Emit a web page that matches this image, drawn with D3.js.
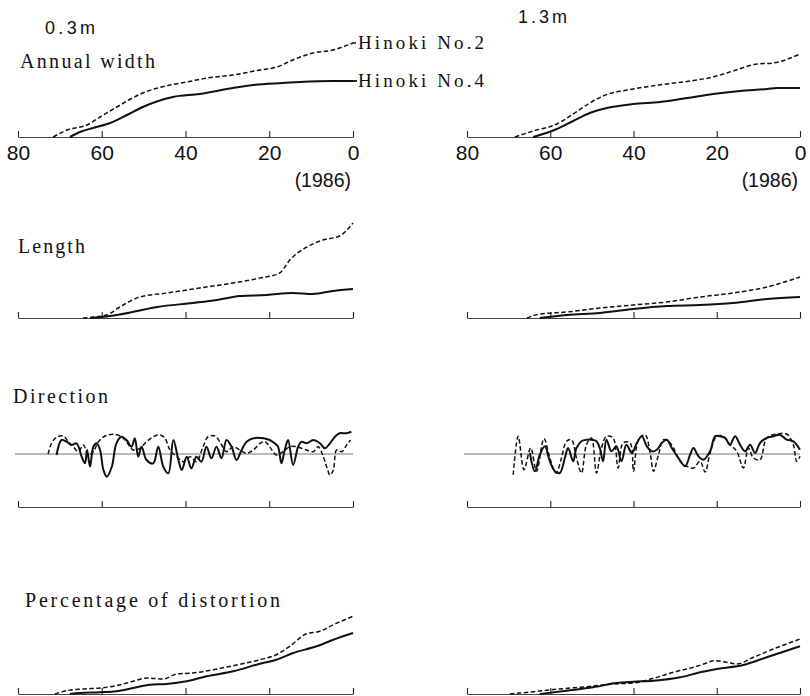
<!DOCTYPE html>
<html>
<head>
<meta charset="utf-8">
<script src="https://cdn.jsdelivr.net/npm/d3@7"></script>
<style>
  html, body { margin: 0; padding: 0; background: #fff; }
  svg { display: block; }
</style>
</head>
<body>
<svg id="chart" width="810" height="696"></svg>
<script>
// ---------------- DATA ----------------
const yearTicks = [80, 60, 40, 20, 0];
const heightLabels = ["0.3m", "1.3m"];
const panelTitles = ["Annual width", "Length", "Direction", "Percentage of distortion"];
const seriesNames = ["Hinoki No.2", "Hinoki No.4"];
const baseYearLabel = "(1986)";

// [years before 1986, relative value]
const widthLowNo2 = [[71.6,0],[68.3,7],[63.5,12],[60.4,20],[56.4,30],[50.2,44],[43.7,52],[39.7,55],[34.9,59],[28.7,62],[22.2,67],[18.2,70],[14.4,77],[9.6,84],[4.8,87],[0,94]];
const widthLowNo4 = [[67.6,0],[65.2,5],[62.1,9],[58.0,14],[54.0,22],[50.2,30],[43.0,40],[36.6,43],[28.7,49],[23.9,52],[16.8,54],[12.7,55],[4.8,56],[0,56]];
const widthHighNo2 = [[68.5,0],[64.1,6],[58.4,13],[54.5,23],[50.5,34],[47.3,41],[40.1,48],[32.0,53],[26.4,56],[20.9,60],[16.1,66],[10.3,73],[6.5,74],[0,83]];
const widthHighNo4 = [[64.1,0],[58.4,8],[54.5,16],[50.5,24],[46.4,29],[40.1,33],[33.6,35],[27.1,39],[20.9,43],[14.4,46],[7.9,48],[5.5,49],[0,49]];

const lengthLowNo2 = [[64.5,0],[58.8,3],[55.7,11],[50.9,21],[44.4,25],[36.6,30],[28.7,35],[22.2,40],[17.5,45],[15.1,58],[11.0,71],[7.2,78],[3.2,82],[0,95]];
const lengthLowNo4 = [[62.8,0],[58.0,2],[52.6,6],[46.8,11],[38.2,15],[32.5,18],[27.0,22],[20.6,23],[14.4,25],[9.6,24],[4.8,27],[0,29]];
const lengthHighNo2 = [[65.6,0],[62.5,4],[56.0,6],[48.0,10],[40.1,13],[32.0,16],[24.0,21],[16.1,25],[7.9,31],[0,41]];
const lengthHighNo4 = [[62.5,0],[56.0,3],[48.0,5],[40.1,9],[32.0,12],[24.0,13],[16.1,15],[7.9,19],[0,21]];

const directionLowNo2 = [[72.8,0],[72.0,10.7],[70.8,16.7],[69.2,18],[68.0,12.3],[66.8,7.3],[65.6,2.3],[64.4,9],[63.2,-1],[62.0,2.3],[60.8,12.3],[59.2,18],[57.2,19.7],[55.3,17.3],[54.1,12.3],[52.5,4],[50.9,5.7],[49.3,12.3],[47.7,17.3],[46.1,19],[44.9,15.7],[43.7,4],[42.1,-2.7],[40.5,-7.7],[38.9,-2.7],[37.4,-7.7],[35.8,7.3],[34.6,17.3],[33.0,18],[31.8,12.3],[30.2,2.3],[28.6,7.3],[27.0,4],[25.4,0.7],[23.8,4],[22.2,10.7],[21.0,12.3],[19.9,7.3],[18.3,-1],[16.7,2.3],[15.1,7.3],[13.5,7.3],[12.3,5.7],[11.1,4],[9.5,2.3],[8.3,7.3],[7.1,-2.7],[6.3,-12.7],[5.5,-21],[4.7,-16],[3.9,4],[2.7,2.3],[1.5,9],[0.6,14]];
const directionLowNo4 = [[70.8,-1],[69.6,14],[68.4,12.3],[67.2,9],[66.0,10.7],[64.8,-2.7],[64.0,-9.3],[63.5,4],[62.8,-12.7],[62.0,7.3],[61.2,10.7],[60.4,4],[59.6,-16],[58.8,-22.7],[57.6,-12.7],[56.5,10.7],[55.3,17.3],[54.1,14],[52.9,7.3],[52.1,15.7],[51.3,-2.7],[50.5,7.3],[49.3,-6],[47.7,-9.3],[46.5,7.3],[45.3,-12.7],[44.1,-19.3],[42.9,14],[41.7,-6],[40.9,-16],[39.7,-2.7],[38.6,-14.3],[37.4,-2.7],[36.2,-7.7],[35.0,7.3],[33.8,-4.3],[32.6,7.3],[31.4,-4.3],[30.2,14],[29.0,7.3],[27.8,-6],[26.6,4],[25.4,12.3],[23.8,15.7],[21.4,15.7],[19.9,14],[18.7,10.7],[17.9,7.3],[17.1,-9.3],[16.3,4],[15.5,14],[14.3,-11],[13.1,7.3],[12.3,12.3],[11.1,10.7],[9.5,14],[7.9,10.7],[6.7,5.7],[5.5,10.7],[4.3,17.3],[3.2,20.7],[1.6,20.7],[0.4,22.3]];
const directionHighNo2 = [[68.9,-20.7],[67.7,17.7],[66.3,-15.7],[64.7,6],[63.3,-17.3],[61.5,15.3],[60.1,-4],[58.6,-19],[57.3,-4],[56.1,12.7],[54.9,14.3],[53.7,-4],[52.5,-19],[51.3,9.3],[50.1,16],[48.9,-19],[47.7,6],[46.5,17.7],[44.9,16],[43.7,-14],[42.5,11],[40.8,11],[40.0,-17.3],[38.8,14.3],[37.2,19.3],[36.0,1],[35.2,-17.3],[34.0,-0.7],[32.8,14.3],[31.6,12.7],[30.4,6],[28.8,-7.3],[27.2,-12.3],[25.6,-14],[24.0,-7.3],[22.8,-18],[21.6,1],[20.0,17.7],[18.4,17.7],[16.8,9.3],[15.2,2.7],[13.6,-14],[12.4,6],[11.2,-4],[9.6,-5.7],[8.0,16],[5.6,20],[3.2,20],[1.6,9.3],[0.8,-7.3],[0,-2.3]];
const directionHighNo4 = [[64.9,1],[63.7,-17.3],[62.5,-0.7],[61.3,7.7],[60.1,-7.3],[58.9,-17.3],[57.7,-19],[56.5,-4],[55.7,6],[54.5,-7.3],[53.7,6],[52.5,12.7],[51.3,14.3],[50.1,14.3],[48.9,12.7],[48.1,6],[47.3,-7.3],[46.5,14.3],[45.3,2.7],[44.1,7.7],[42.9,-7.3],[41.7,9.3],[40.4,1],[39.2,11],[38.0,17.7],[36.8,7.7],[35.6,2.7],[34.4,4.3],[33.2,11],[32.0,14.3],[30.8,6],[29.2,-4],[27.6,-12.3],[26.4,-0.7],[25.6,6],[24.4,-2.3],[23.2,-5.7],[21.6,2.7],[20.4,17.7],[19.2,17.7],[18.0,16],[16.8,9.3],[15.6,17.7],[14.4,9.3],[13.2,2.7],[12.0,9.3],[10.8,1],[9.6,11],[8.0,16],[6.4,17.7],[4.8,19.3],[3.2,14.3],[1.6,12.7],[0,4.3]];

const distortionLowNo2 = [[71.2,0],[68.4,3.3],[64.4,5],[60.4,6],[56.5,8.3],[52.5,12.7],[49.3,16],[45.3,15],[42.1,20],[38.2,21],[33.4,24.3],[28.6,28.3],[22.2,34.3],[18.3,39.3],[15.1,47.7],[11.1,60.3],[7.9,62.7],[4.7,69.3],[0,77.7]];
const distortionLowNo4 = [[67.6,0],[65.2,1],[60.4,1.7],[56.5,2.7],[52.5,6],[48.5,9.3],[44.5,10],[39.7,12.7],[35.0,17.7],[28.6,22.7],[22.2,30.3],[18.3,34.3],[14.3,41],[8.7,47.7],[4.7,54.3],[0,61]];
const distortionHighNo2 = [[69.7,0],[64.1,2.3],[57.7,5],[51.3,7.3],[44.9,10],[40.0,11],[35.2,15.7],[30.4,21.7],[25.6,26.7],[22.4,31],[20.8,33.3],[17.6,31.7],[15.2,30],[11.2,36.7],[6.4,45],[0,55]];
const distortionHighNo4 = [[62.5,0],[56.1,3.3],[49.7,6.7],[44.1,11],[40.0,12.3],[35.2,13.3],[28.8,16.7],[24.0,21.7],[20.0,25],[13.6,29],[8.0,36.7],[0,47.7]];

// ---------------- LAYOUT ----------------
const svg = d3.select("#chart");
const serif = "'Liberation Serif','DejaVu Serif',serif";
const sans = "'Liberation Sans','DejaVu Sans',Arial,sans-serif";
const ink = "#111";

const cols = [
  { x: d3.scaleLinear().domain([80, 0]).range([18, 353]) },
  { x: d3.scaleLinear().domain([80, 0]).range([467, 800]) }
];

const rows = [
  { kind: "growth", base: 137, labels: true,
    data: [[widthLowNo2, widthLowNo4], [widthHighNo2, widthHighNo4]] },
  { kind: "growth", base: 318,
    data: [[lengthLowNo2, lengthLowNo4], [lengthHighNo2, lengthHighNo4]] },
  { kind: "direction", base: 507, center: 454,
    data: [[directionLowNo2, directionLowNo4], [directionHighNo2, directionHighNo4]] },
  { kind: "growth", base: 694,
    data: [[distortionLowNo2, distortionLowNo4], [distortionHighNo2, distortionHighNo4]] }
];

rows.forEach(row => {
  cols.forEach((col, ci) => {
    const x = col.x;
    let y, curve;
    if (row.kind === "growth") {
      y = d3.scaleLinear().domain([0, 100]).range([row.base, row.base - 100]);
      curve = d3.curveMonotoneX;
    } else {
      y = d3.scaleLinear().domain([-25, 25]).range([row.center + 25, row.center - 25]);
      curve = d3.curveCatmullRom.alpha(0.5);
      // zero reference line
      svg.append("line")
        .attr("x1", x(80) - 3).attr("x2", x(0))
        .attr("y1", y(0)).attr("y2", y(0))
        .attr("stroke", "#666").attr("stroke-width", 0.9);
    }

    // axis
    const axis = d3.axisBottom(x)
      .tickValues(yearTicks)
      .tickSizeInner(-6).tickSizeOuter(0)
      .tickPadding(8)
      .tickFormat(row.labels ? d3.format("d") : () => "");
    const g = svg.append("g").attr("transform", `translate(0,${row.base})`).call(axis);
    g.select(".domain").attr("stroke", "#444").attr("stroke-width", 1.1);
    g.selectAll(".tick line").attr("stroke", "#222").attr("stroke-width", 1.1);
    g.selectAll(".tick text")
      .attr("fill", ink)
      .style("font-family", sans)
      .style("font-size", "21px");

    const line = d3.line().x(d => x(d[0])).y(d => y(d[1])).curve(curve);

    // No.2 dashed
    svg.append("path").datum(row.data[ci][0])
      .attr("d", line).attr("fill", "none")
      .attr("stroke", ink).attr("stroke-width", 1.5)
      .attr("stroke-dasharray", "4.5,2.5");
    // No.4 solid
    svg.append("path").datum(row.data[ci][1])
      .attr("d", line).attr("fill", "none")
      .attr("stroke", ink).attr("stroke-width", 2);

    if (row.labels) {
      svg.append("text")
        .attr("x", x(0) - 2).attr("y", 187)
        .attr("text-anchor", "end")
        .attr("fill", ink)
        .style("font-family", sans).style("font-size", "19.5px")
        .text(baseYearLabel);

      if (ci === 0) {
        // legend labels attached to the line ends
        const endNo2 = row.data[0][0][row.data[0][0].length - 1];
        const endNo4 = row.data[0][1][row.data[0][1].length - 1];
        svg.append("line").attr("x1", x(0)).attr("x2", x(0) + 5)
          .attr("y1", y(endNo2[1])).attr("y2", y(endNo2[1]))
          .attr("stroke", ink).attr("stroke-width", 1.5).attr("stroke-dasharray", "3,2");
        svg.append("line").attr("x1", x(0)).attr("x2", x(0) + 4)
          .attr("y1", y(endNo4[1])).attr("y2", y(endNo4[1]))
          .attr("stroke", ink).attr("stroke-width", 1.8);
        [[seriesNames[0], endNo2], [seriesNames[1], endNo4]].forEach(([name, e]) => {
          svg.append("text")
            .attr("x", x(0) + 5).attr("y", y(e[1]) + 6)
            .attr("fill", ink)
            .attr("textLength", 126).attr("lengthAdjust", "spacing")
            .style("font-family", serif).style("font-size", "19px")
            .text(name);
        });
      }
    }
  });
});

// height labels
svg.append("text").attr("x", 45).attr("y", 34)
  .attr("fill", ink).attr("textLength", 50).attr("lengthAdjust", "spacing")
  .style("font-family", sans).style("font-size", "18px").text(heightLabels[0]);
svg.append("text").attr("x", 518).attr("y", 23)
  .attr("fill", ink).attr("textLength", 49).attr("lengthAdjust", "spacing")
  .style("font-family", sans).style("font-size", "18px").text(heightLabels[1]);

// panel titles
const titlePos = [[20, 68, 135], [18, 253, 67], [13, 403, 95], [25, 607, 255]];
panelTitles.forEach((t, i) => {
  svg.append("text")
    .attr("x", titlePos[i][0]).attr("y", titlePos[i][1])
    .attr("fill", ink)
    .attr("textLength", titlePos[i][2]).attr("lengthAdjust", "spacing")
    .style("font-family", serif).style("font-size", "20px")
    .text(t);
});
</script>
</body>
</html>
